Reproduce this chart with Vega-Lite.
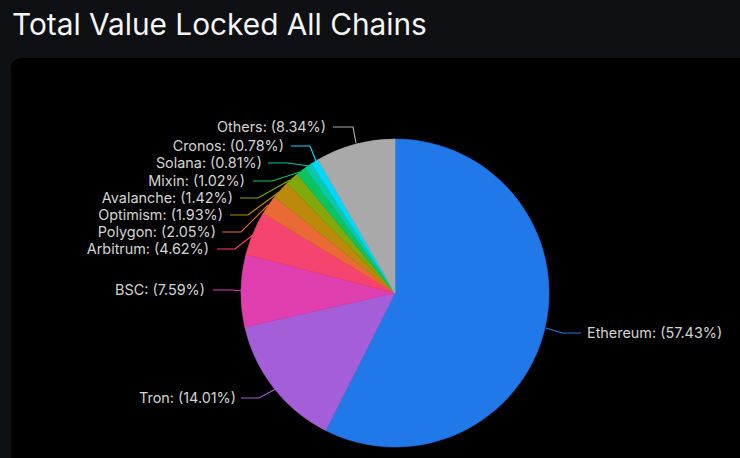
{"$schema":"https://vega.github.io/schema/vega-lite/v6.json","width":740,"height":458,"padding":0,"autosize":{"type":"none"},"background":"#0e1013","config":{"view":{"stroke":null},"font":"Inter"},"title":{"text":"Total Value Locked All Chains","anchor":"start","frame":"group","dx":12,"offset":-65,"fontSize":29.8,"fontWeight":400,"font":"Inter","color":"#f4f4f4","baseline":"alphabetic"},"datasets":{"panel":[{"x":11,"x2":760,"y":58,"y2":480}],"shares":[{"chain":"Ethereum","share":57.43,"rank":1},{"chain":"Tron","share":14.01,"rank":2},{"chain":"BSC","share":7.59,"rank":3},{"chain":"Arbitrum","share":4.62,"rank":4},{"chain":"Polygon","share":2.05,"rank":5},{"chain":"Optimism","share":1.93,"rank":6},{"chain":"Avalanche","share":1.42,"rank":7},{"chain":"Mixin","share":1.02,"rank":8},{"chain":"Solana","share":0.81,"rank":9},{"chain":"Cronos","share":0.78,"rank":10},{"chain":"Others","share":8.34,"rank":11}],"leaders":[{"chain":"Others","i":1,"u":333,"v":127},{"chain":"Others","i":2,"u":353,"v":127},{"chain":"Others","i":3,"u":356,"v":143},{"chain":"Cronos","i":1,"u":291,"v":146},{"chain":"Cronos","i":2,"u":310,"v":146},{"chain":"Cronos","i":3,"u":316,"v":161},{"chain":"Solana","i":1,"u":268,"v":163},{"chain":"Solana","i":2,"u":288,"v":163},{"chain":"Solana","i":3,"u":309,"v":166},{"chain":"Mixin","i":1,"u":253,"v":181},{"chain":"Mixin","i":2,"u":272,"v":181},{"chain":"Mixin","i":3,"u":300,"v":172},{"chain":"Avalanche","i":1,"u":240,"v":198},{"chain":"Avalanche","i":2,"u":258,"v":198},{"chain":"Avalanche","i":3,"u":290,"v":180},{"chain":"Optimism","i":1,"u":230,"v":215},{"chain":"Optimism","i":2,"u":248,"v":215},{"chain":"Optimism","i":3,"u":279,"v":192},{"chain":"Polygon","i":1,"u":222,"v":232},{"chain":"Polygon","i":2,"u":241,"v":232},{"chain":"Polygon","i":3,"u":268,"v":205},{"chain":"Arbitrum","i":1,"u":217,"v":249},{"chain":"Arbitrum","i":2,"u":235,"v":249},{"chain":"Arbitrum","i":3,"u":253,"v":235},{"chain":"BSC","i":1,"u":213,"v":290},{"chain":"BSC","i":2,"u":232,"v":290},{"chain":"BSC","i":3,"u":243,"v":291},{"chain":"Tron","i":1,"u":241,"v":398},{"chain":"Tron","i":2,"u":259,"v":398},{"chain":"Tron","i":3,"u":285,"v":384},{"chain":"Ethereum","i":1,"u":581,"v":333},{"chain":"Ethereum","i":2,"u":562,"v":333},{"chain":"Ethereum","i":3,"u":546,"v":328}],"labels":[{"label":"Others: (8.34%)","u":326,"v":127},{"label":"Cronos: (0.78%)","u":284,"v":146},{"label":"Solana: (0.81%)","u":262,"v":163},{"label":"Mixin: (1.02%)","u":245,"v":181},{"label":"Avalanche: (1.42%)","u":233,"v":198},{"label":"Optimism: (1.93%)","u":223,"v":215},{"label":"Polygon: (2.05%)","u":216,"v":232},{"label":"Arbitrum: (4.62%)","u":209,"v":249},{"label":"BSC: (7.59%)","u":205,"v":290},{"label":"Tron: (14.01%)","u":236,"v":398}],"labelsRight":[{"label":"Ethereum: (57.43%)","u":587,"v":333}]},"layer":[{"data":{"name":"panel"},"mark":{"type":"rect","color":"#000000","cornerRadius":10,"clip":true},"encoding":{"x":{"field":"x","type":"quantitative","scale":{"domain":[0,740],"range":[0,740]},"axis":null},"x2":{"field":"x2"},"y":{"field":"y","type":"quantitative","scale":{"domain":[0,458],"range":[0,458]},"axis":null},"y2":{"field":"y2"}}},{"data":{"name":"shares"},"mark":{"type":"arc","outerRadius":154,"strokeWidth":0.6},"encoding":{"x":{"datum":395,"type":"quantitative","scale":{"domain":[0,740],"range":[0,740]},"axis":null},"y":{"datum":293,"type":"quantitative","scale":{"domain":[0,458],"range":[0,458]},"axis":null},"theta":{"field":"share","type":"quantitative","stack":true,"scale":{"domain":[0,100],"range":[0,6.2832]}},"order":{"field":"rank","type":"quantitative"},"stroke":{"field":"chain","type":"nominal","legend":null,"scale":{"domain":["Ethereum","Tron","BSC","Arbitrum","Polygon","Optimism","Avalanche","Mixin","Solana","Cronos","Others"],"range":["#2178e8","#a45fd8","#e03fb0","#f5446f","#ea6a35","#bb8a0a","#82a80c","#0cc45f","#0bc9a8","#00d8ff","#a9a9a9"]}},"color":{"field":"chain","type":"nominal","legend":null,"scale":{"domain":["Ethereum","Tron","BSC","Arbitrum","Polygon","Optimism","Avalanche","Mixin","Solana","Cronos","Others"],"range":["#2178e8","#a45fd8","#e03fb0","#f5446f","#ea6a35","#bb8a0a","#82a80c","#0cc45f","#0bc9a8","#00d8ff","#a9a9a9"]}}}},{"data":{"name":"leaders"},"mark":{"type":"line","strokeWidth":1.2,"interpolate":"linear"},"encoding":{"x":{"field":"u","type":"quantitative","scale":{"domain":[0,740],"range":[0,740]},"axis":null},"y":{"field":"v","type":"quantitative","scale":{"domain":[0,458],"range":[0,458]},"axis":null},"order":{"field":"i","type":"quantitative"},"detail":{"field":"chain"},"color":{"field":"chain","type":"nominal","legend":null}}},{"data":{"name":"labels"},"mark":{"type":"text","align":"right","baseline":"middle","fontSize":14.4,"dy":1,"font":"Inter","color":"#d4d4d4"},"encoding":{"x":{"field":"u","type":"quantitative","scale":{"domain":[0,740],"range":[0,740]},"axis":null},"y":{"field":"v","type":"quantitative","scale":{"domain":[0,458],"range":[0,458]},"axis":null},"text":{"field":"label"}}},{"data":{"name":"labelsRight"},"mark":{"type":"text","align":"left","baseline":"middle","fontSize":14.4,"dy":1,"font":"Inter","color":"#d4d4d4"},"encoding":{"x":{"field":"u","type":"quantitative","scale":{"domain":[0,740],"range":[0,740]},"axis":null},"y":{"field":"v","type":"quantitative","scale":{"domain":[0,458],"range":[0,458]},"axis":null},"text":{"field":"label"}}}]}
